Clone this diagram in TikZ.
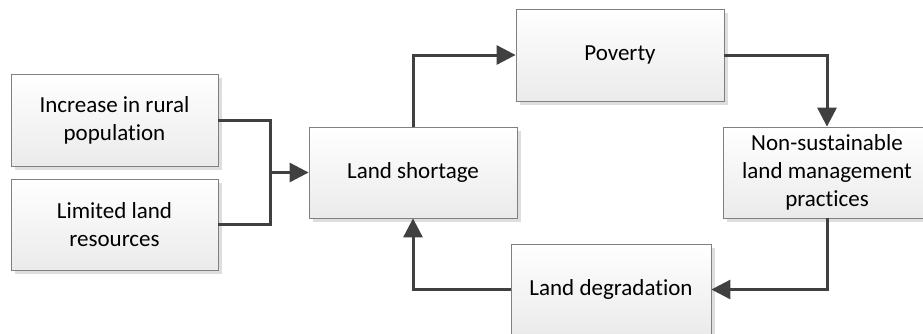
\documentclass[tikz,border=0pt]{standalone}
\usepackage{fontspec}
\setmainfont{Carlito}[Ligatures=CommonOff]
\usetikzlibrary{arrows.meta,shadows}

\tikzset{
  box/.style={draw=black!50, line width=0.8pt, top color=white, bottom color=black!8,
    minimum width=208pt, minimum height=91pt, align=center, inner sep=2pt,
    drop shadow={shadow xshift=4pt, shadow yshift=-4pt, fill=black!13, opacity=1}},
  link/.style={draw=black!75, line width=3pt},
  conn/.style={link, -{Triangle[length=19pt,width=19pt]}}
}

\begin{document}
\begin{tikzpicture}[x=1pt,y=-1pt,font=\fontsize{23}{28}\selectfont]

\clip (0,0) rectangle (923,333);

\node[box, minimum width=207pt, minimum height=92pt] (inc) at (114.5,120) {Increase in rural\\population};
\node[box, minimum width=207pt] (lim) at (114.5,224.5) {Limited land\\resources};
\node[box] (ls) at (413,172.5) {Land shortage};
\node[box, minimum height=92pt] (pov) at (620,55) {Poverty};
\node[box] (nsl) at (827,172.5) {Non-sustainable\\land management\\practices};
\node[box, minimum width=200pt] (ld) at (611,289.5) {Land degradation};

\coordinate (jn) at (270,172.5);

\draw[link] (inc.east) -| (jn);
\draw[link] (lim.east) -| (jn);
\draw[conn] (jn) -- (ls.west);

\draw[conn] (ls.north) |- (pov.west);
\draw[conn] (pov.east) -| (nsl.north);
\draw[conn] (nsl.south) |- (ld.east);
\draw[conn] (ld.west) -| (ls.south);

\end{tikzpicture}
\end{document}
